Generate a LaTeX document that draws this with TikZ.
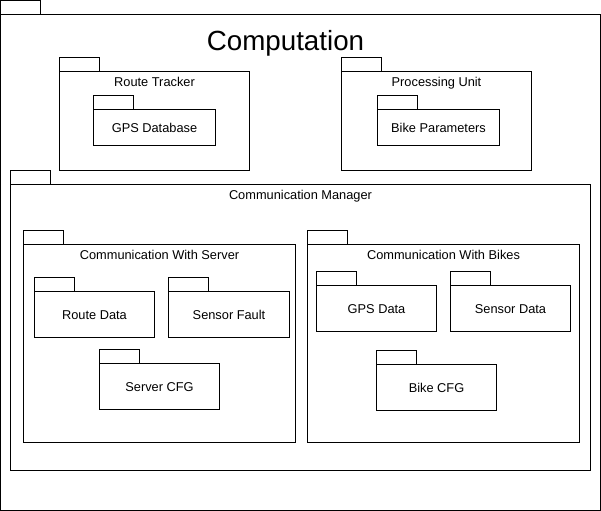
\documentclass[tikz,border=0pt]{standalone}
\usepackage{fontspec}
\setmainfont{Liberation Sans}
\usetikzlibrary{fit}
\tikzset{
  pkgline/.style={draw=black, line width=0.75pt},
  lbl/.style={font=\fontsize{9.6}{11}\selectfont, inner sep=0pt, anchor=center, text height=8.8pt, text depth=1.9pt},
  title/.style={font=\fontsize{20.8}{24}\selectfont, inner sep=0pt, anchor=center, text height=19.1pt, text depth=4.2pt}
}
% #1 name, #2 x1, #3 body top, #4 x2, #5 y2
\newcommand\pkgbox[5]{%
  \node[pkgline, fit={(#2,#3) (#4,#5)}, inner sep=0pt] (#1) {};
  \draw[pkgline] (#1.north west) rectangle ++(40,-14);
}
\begin{document}
\begin{tikzpicture}[x=0.75pt, y=-0.75pt]
\useasboundingbox (-0.5,-0.5) rectangle (600.5,510.5);
\pkgbox{comp}{0}{14}{600}{510}
\node[title] (tcomp) at (285,40) {Computation};

\pkgbox{rt}{59}{71}{249}{170}
\node[lbl] (trt) at (154,81) {Route Tracker};
\pkgbox{gpsdb}{93}{109}{215}{145}
\node[lbl] at (gpsdb.center) {GPS Database};

\pkgbox{pu}{341}{71}{531}{170}
\node[lbl] (tpu) at (436,81) {Processing Unit};
\pkgbox{bp}{377}{109}{499}{145}
\node[lbl] at (bp.center) {Bike Parameters};

\pkgbox{cm}{10}{184}{590}{470}
\node[lbl] (tcm) at (300,194) {Communication Manager};

\pkgbox{cws}{23}{244}{295}{442}
\node[lbl] (tcws) at (159,254) {Communication With Server};
\pkgbox{rd}{34}{291}{154}{337}
\node[lbl] at (rd.center) {Route Data};
\pkgbox{sf}{168}{291}{289}{337}
\node[lbl] at (sf.center) {Sensor Fault};
\pkgbox{scfg}{99}{363}{219}{409}
\node[lbl] at (scfg.center) {Server CFG};

\pkgbox{cwb}{307}{244}{579}{442}
\node[lbl] (tcwb) at (443,254) {Communication With Bikes};
\pkgbox{gpsd}{316}{285}{436}{331}
\node[lbl] at (gpsd.center) {GPS Data};
\pkgbox{sd}{450}{285}{570}{331}
\node[lbl] at (sd.center) {Sensor Data};
\pkgbox{bcfg}{376}{364}{496}{410}
\node[lbl] at (bcfg.center) {Bike CFG};
\end{tikzpicture}
\end{document}
